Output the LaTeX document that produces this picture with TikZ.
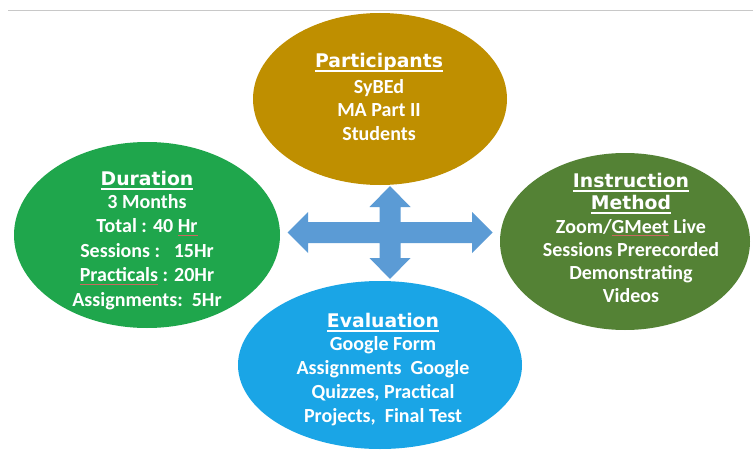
\documentclass[tikz,border=0pt]{standalone}
\usepackage{fontspec}
\newfontfamily\bodyfont{Carlito}
\newfontfamily\headfont{DejaVu Sans}
\usetikzlibrary{shapes.geometric}

\definecolor{goldfill}{HTML}{BF8F00}
\definecolor{durgreen}{HTML}{1FA64C}
\definecolor{olivegreen}{HTML}{548235}
\definecolor{skyblue}{HTML}{1AA5E6}
\definecolor{arrowblue}{HTML}{5B9BD5}
\definecolor{rulegray}{HTML}{C8C8C8}
\definecolor{spellred}{HTML}{C86A60}

% underlined heading word
\newcommand{\headul}[1]{\setbox0\hbox{#1}\rlap{\rule[-4.6pt]{\wd0}{1.7pt}}\box0\relax}
% thin red proofing mark under a word
\newcommand{\spellmark}[1]{\setbox0\hbox{#1}\rlap{\color{spellred}\rule[-3pt]{\wd0}{0.6pt}}\box0\relax}

\begin{document}
\begin{tikzpicture}[x=1pt,y=-1pt,
  blob/.style={ellipse, draw=none, inner sep=0pt},
  headtxt/.style={anchor=base, text=white, inner sep=0pt,
    font=\headfont\bfseries\fontsize{18.8}{22}\selectfont},
  bodytxt/.style={anchor=base, text=white, inner sep=0pt,
    font=\bodyfont\bfseries\fontsize{20}{24}\selectfont}]
\useasboundingbox (0,0) rectangle (753,452);
\fill[white] (0,0) rectangle (753,452);

% header rule
\coordinate (ruleL) at (8,10.5);
\coordinate (ruleR) at (753,10.5);
\draw[rulegray, line width=1.3pt] (ruleL) -- (ruleR);

% the four ellipses
\node[blob, fill=goldfill,   minimum width=254pt, minimum height=172pt] (part) at (380,99) {};
\node[blob, fill=durgreen,   minimum width=266pt, minimum height=186pt] (dur)  at (147,235) {};
\node[blob, fill=olivegreen, minimum width=250pt, minimum height=177pt] (inst) at (625,241.5) {};
\node[blob, fill=skyblue,    minimum width=284pt, minimum height=168pt] (eval) at (380,365) {};

% four-way arrow in the middle
\fill[arrowblue]
  (390,186) -- (410.5,207) -- (400.5,207) -- (400.5,222) -- (472,222) -- (472,212)
  -- (492.5,232.5) -- (472,253) -- (472,243) -- (400.5,243) -- (400.5,258)
  -- (410.5,258) -- (390,279) -- (369.5,258) -- (379.5,258) -- (379.5,243)
  -- (308,243) -- (308,253) -- (287.5,232.5) -- (308,212) -- (308,222)
  -- (379.5,222) -- (379.5,207) -- (369.5,207) -- cycle;

% Participants
\node[headtxt] (partT) at (379,67) {\headul{Participants}};
\foreach \t [count=\i] in {SyBEd, MA Part II, Students}
  \node[bodytxt] (partL\i) at (379,{94+23*(\i-1)}) {\t};

% Duration
\node[headtxt] (durT) at (147,185) {\headul{Duration}};
\foreach \t [count=\i] in {3 Months, Total : 40 \spellmark{Hr}, Sessions :~~~15Hr,
    {\spellmark{Practicals} : 20Hr}, Assignments:~~5Hr}
  \node[bodytxt] (durL\i) at (147,{208+24.5*(\i-1)}) {\t};

% Instruction Method
\node[headtxt] (instT1) at (631,187) {\headul{Instruction}};
\node[headtxt] (instT2) at (631,209) {\headul{Method}};
\foreach \t [count=\i] in {Zoom/\spellmark{GMeet} Live, Sessions Prerecorded,
    Demonstrating, Videos}
  \node[bodytxt] (instL\i) at (631,{233+23*(\i-1)}) {\t};

% Evaluation
\node[headtxt] (evalT) at (383,327) {\headul{Evaluation}};
\foreach \t [count=\i] in {Google Form, Assignments~~Google, {Quizzes, Practical},
    {Projects,~~Final Test}}
  \node[bodytxt] (evalL\i) at (383,{350+24*(\i-1)}) {\t};
\end{tikzpicture}
\end{document}
